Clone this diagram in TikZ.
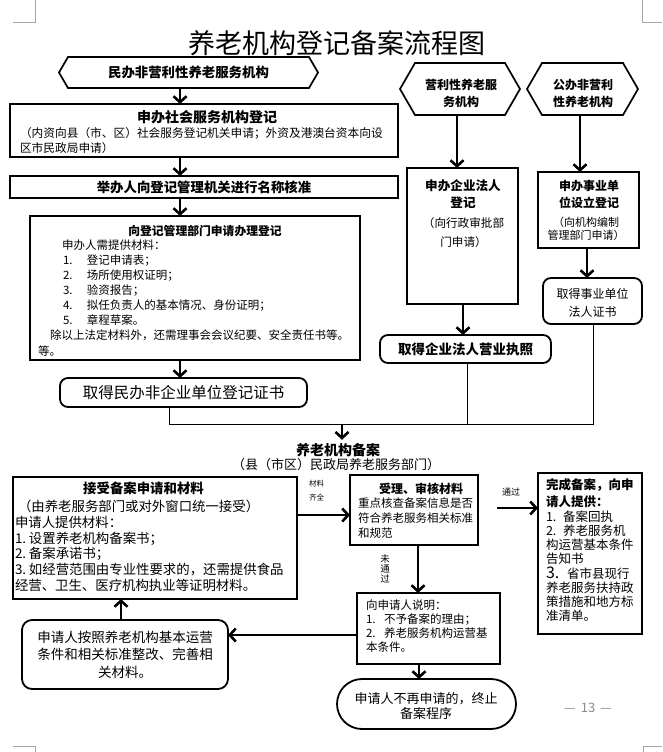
\documentclass[tikz,border=0pt]{standalone}
\usepackage{fontspec}
\setmainfont{Noto Sans CJK SC}
\usetikzlibrary{arrows.meta}
\newcommand\fsz[2]{\fontsize{#1}{#2}\selectfont}
\newcommand\numb[2]{\makebox[#1][l]{#2}}
\newcommand\hexpath[2]{\draw[hexline] ([xshift=#2]#1.north west) -- ([xshift=-#2]#1.north east) -- (#1.east) -- ([xshift=-#2]#1.south east) -- ([xshift=#2]#1.south west) -- (#1.west) -- cycle;}
\begin{document}
\begin{tikzpicture}[x=1pt,y=-1pt,
  plainbox/.style={draw=black, line width=1.6pt, inner sep=0pt, outer sep=0pt},
  roundbox/.style={plainbox, line width=1.8pt, rounded corners=8pt},
  hexbox/.style={inner sep=0pt, outer sep=0pt, align=center},
  hexline/.style={line width=1.7pt, line join=miter},
  arr/.style={line width=2.6pt, -{Straight Barb[length=6pt,width=13pt]}},
  conn/.style={line width=0.9pt},
  cornermark/.style={line width=0.8pt, draw=black!35},
  txt/.style={inner sep=0pt, outer sep=0pt, align=center},
  ltxt/.style={inner sep=0pt, outer sep=0pt, align=left, anchor=west},
]
\fill[white] (0,0) rectangle (662,752);
\useasboundingbox (0,0) rectangle (662,752);

% corner marks
\draw[cornermark] (13,22) -- (35,22) -- (35,0);
\draw[cornermark] (642,0) -- (642,22) -- (662,22);
\draw[cornermark] (13,746) -- (35,746) -- (35,752);
\draw[cornermark] (662,746) -- (643,746) -- (643,752);

% title
\node[txt, font=\fsz{27}{27}] (title) at (337,43) {养老机构登记备案流程图};

% ---------- left column ----------
\node[hexbox, minimum width=259pt, minimum height=31pt, font=\fsz{13.4}{16}\bfseries] (hA) at (188.5,72.5) {民办非营利性养老服务机构};
\hexpath{hA}{9pt}

\node[plainbox, minimum width=388pt, minimum height=53pt] (B1) at (204,130.5) {};
\node[txt, font=\fsz{14}{14}\bfseries] (B1t) at (207,117) {申办社会服务机构登记};
\node[ltxt, font=\fsz{11.7}{15}] (B1b) at (20,140.5) {（内资向县（市、区）社会服务登记机关申请；外资及港澳台资本向设\\区市民政局申请）};

\node[plainbox, minimum width=388pt, minimum height=22pt, font=\fsz{13.4}{13.4}\bfseries] (B2) at (204,187) {举办人向登记管理机关进行名称核准};

\node[plainbox, minimum width=330pt, minimum height=144pt] (B3) at (195,288) {};
\node[txt, font=\fsz{11.8}{11.8}\bfseries] (B3t) at (205,231) {向登记管理部门申请办理登记};
\node[ltxt, font=\fsz{11.5}{15.1}] (B3b) at (38,297.85) {\hspace*{24pt}申办人需提供材料：\\
\hspace*{25pt}\numb{24pt}{1.}登记申请表；\\
\hspace*{25pt}\numb{24pt}{2.}场所使用权证明；\\
\hspace*{25pt}\numb{24pt}{3.}验资报告；\\
\hspace*{25pt}\numb{24pt}{4.}拟任负责人的基本情况、身份证明；\\
\hspace*{25pt}\numb{24pt}{5.}章程草案。\\
\hspace*{12pt}除以上法定材料外，还需理事会会议纪要、安全责任书等。\\
等。};

\node[roundbox, minimum width=247pt, minimum height=29pt, font=\fsz{15.5}{15.5}] (C1) at (183.5,392.5) {取得民办非企业单位登记证书};

% ---------- right columns ----------
\node[hexbox, minimum width=120pt, minimum height=52pt] (hB) at (460,89) {};
\hexpath{hB}{15pt}
\node[txt, font=\fsz{12}{16.7}\bfseries] (hBt) at (461,93.3) {营利性养老服\\务机构};

\node[hexbox, minimum width=111pt, minimum height=52pt] (hC) at (582.5,89) {};
\hexpath{hC}{15pt}
\node[txt, font=\fsz{12}{16.7}\bfseries] (hCt) at (583,93.3) {公办非营利\\性养老机构};

\node[plainbox, minimum width=111pt, minimum height=136pt] (D) at (462.5,236) {};
\node[txt, font=\fsz{12.6}{17}\bfseries] (Dt) at (463,194.5) {申办企业法人\\登记};
\node[txt, font=\fsz{11.6}{19}] (Db) at (463.5,232.5) {（向行政审批部\\门申请）};

\node[plainbox, minimum width=101pt, minimum height=76pt] (E) at (588.5,210) {};
\node[txt, font=\fsz{12}{17}\bfseries] (Et) at (589,194.5) {申办事业单\\位设立登记};
\node[txt, font=\fsz{11}{13}] (Eb) at (586,228.5) {（向机构编制\\管理部门申请）};

\node[roundbox, minimum width=99pt, minimum height=46pt] (F) at (592.5,301) {};
\node[txt, font=\fsz{12}{18}] (Ft) at (592.5,303) {取得事业单位\\法人证书};

\node[roundbox, minimum width=171pt, minimum height=28pt, font=\fsz{13.5}{13.5}\bfseries] (G) at (465.5,349) {取得企业法人营业执照};

% ---------- top arrows ----------
\coordinate (ax) at (180,0);
\draw[arr] (ax |- hA.south) -- (ax |- B1.north);
\draw[arr] (ax |- B1.south) -- (ax |- B2.north);
\draw[arr] (ax |- B2.south) -- (ax |- B3.north);
\draw[arr] (ax |- B3.south) -- (ax |- C1.north);
\coordinate (bx) at (457,0);
\draw[arr] (bx |- hB.south) -- (bx |- D.north);
\coordinate (cx) at (580,0);
\draw[arr] (cx |- hC.south) -- (cx |- E.north);
\coordinate (ex) at (587,0);
\draw[arr] (ex |- E.south) -- (ex |- F.north);
\coordinate (dx) at (463,0);
\draw[arr] (dx |- D.south) -- (dx |- G.north);

% ---------- merge ----------
\coordinate (mL) at (169,424);
\coordinate (mR) at (593,424);
\coordinate (gx) at (467,424);
\coordinate (mg) at (342,424);
\draw[conn] (C1.south -| mL) -- (mL) -- (mR) -- (F.south -| mR);
\draw[conn] (G.south -| gx) -- (gx);
\node[txt, outer sep=3.5pt, font=\fsz{14}{14}\bfseries] (beian) at (338,450) {养老机构备案};
\node[txt, font=\fsz{13}{13}] (beianSub) at (336,465) {（县（市区）民政局养老服务部门）};
\draw[arr] (mg) -- (mg |- beian.north);

% ---------- bottom section ----------
\node[plainbox, minimum width=284pt, minimum height=122pt] (H) at (155,538) {};
\node[txt, font=\fsz{13.4}{13.4}\bfseries] (Ht) at (143.5,488) {接受备案申请和材料};
\node[ltxt, font=\fsz{13.4}{15.7}] (Hb) at (15,545.95) {\hspace*{3pt}（由养老服务部门或对外窗口统一接受）\\
申请人提供材料：\\
\numb{14pt}{1.}设置养老机构备案书；\\
\numb{14pt}{2.}备案承诺书；\\
\numb{14pt}{3.}如经营范围由专业性要求的，还需提供食品\\
经营、卫生、医疗机构执业等证明材料。};

\node[plainbox, minimum width=128pt, minimum height=70pt] (J) at (414,510) {};
\node[txt, font=\fsz{12}{12}\bfseries] (Jt) at (421,489) {受理、审核材料};
\node[ltxt, font=\fsz{11.5}{15}] (Jb) at (358,518) {重点核查备案信息是否\\符合养老服务相关标准\\和规范};

\node[plainbox, minimum width=104pt, minimum height=161pt] (K) at (590,553.5) {};
\node[ltxt, font=\fsz{12.5}{16.7}\bfseries] (Kt) at (546,493.35) {完成备案，向申\\请人提供：};
\node[ltxt, font=\fsz{12.5}{14.15}] (Kb) at (546,566.25) {\numb{17pt}{1.}备案回执\\
\numb{17pt}{2.}养老服务机\\
构运营基本条件\\
告知书\\
\numb{21pt}{\fsz{16}{14.15}3.}省市县现行\\
养老服务扶持政\\
策措施和地方标\\
准清单。};

\node[plainbox, minimum width=143pt, minimum height=71pt] (L) at (428.5,628.5) {};
\node[ltxt, font=\fsz{11.5}{14}] (Lb) at (366,626) {向申请人说明：\\
\numb{18pt}{1.}不予备案的理由；\\
\numb{18pt}{2.}养老服务机构运营基\\
本条件。};

\node[roundbox, rounded corners=10pt, minimum width=206pt, minimum height=69pt, font=\fsz{13.5}{17.5}, align=center] (M) at (125,654.5) {申请人按照养老机构基本运营\\条件和相关标准整改、完善相\\关材料。};

\node[roundbox, rounded corners=25pt, minimum width=179pt, minimum height=50pt] (N) at (426.5,704) {};
\node[txt, font=\fsz{13}{15}] (Nt) at (426,706.5) {申请人不再申请的，终止\\备案程序};

% ---------- bottom arrows ----------
\coordinate (hy) at (0,515);
\draw[arr] (H.east |- hy) -- (J.west |- hy);
\node[txt, font=\fsz{7.5}{14}] (qq) at (316.5,491) {材料\\齐全};
\coordinate (jk) at (497,508);
\draw[arr] (jk) -- (K.west |- jk);
\node[txt, font=\fsz{9}{9}] (tg) at (511,492) {通过};
\coordinate (jx) at (418,0);
\draw[arr] (jx |- J.south) -- (jx |- L.north);
\node[txt, font=\fsz{9.5}{10}] (wtg) at (385,569) {未\\通\\过};
\coordinate (ly) at (0,635);
\draw[arr] (L.west |- ly) -- (M.east |- ly);
\coordinate (mx) at (121,0);
\draw[arr] (mx |- M.north) -- (mx |- H.south);
\coordinate (nx) at (419,0);
\draw[arr] (nx |- L.south) -- (nx |- N.north);

% page number
\node[txt, font=\fsz{13}{13}, text=black!45] (pg) at (588,708) {—\hspace{5pt}13\hspace{5pt}—};
\end{tikzpicture}
\end{document}
